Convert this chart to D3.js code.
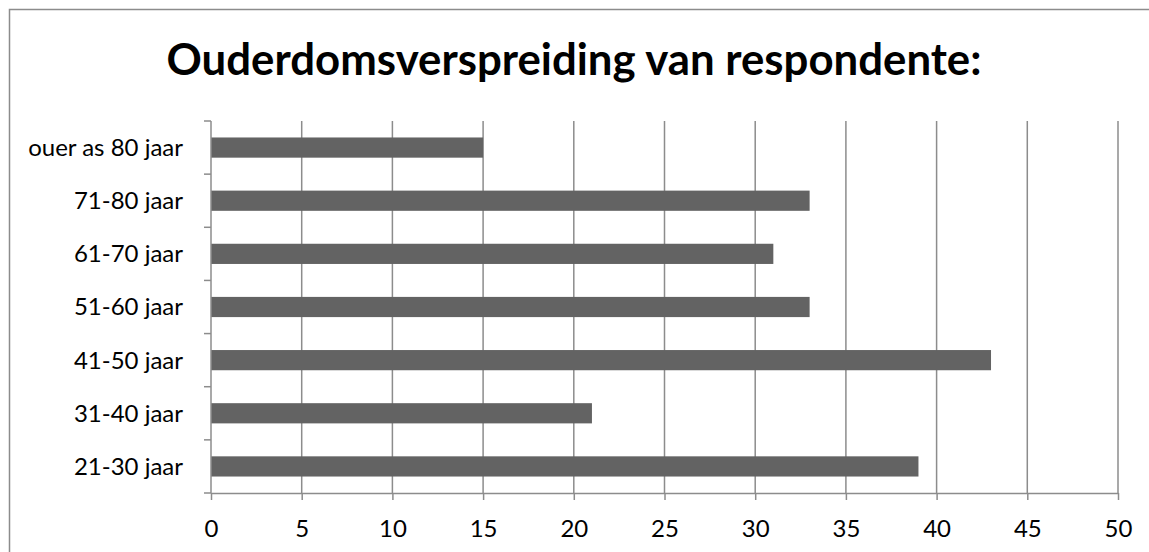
<!DOCTYPE html>
<html>
<head>
<meta charset="utf-8">
<script src="https://cdn.jsdelivr.net/npm/d3@7"></script>
<style>
    body { margin: 0; background: #fff; }
    svg text { font-family: Lato, "Noto Sans", sans-serif; fill: #000; }
</style>
</head>
<body>
<div id="chart"></div>
<script>
// chart data, top to bottom as drawn
const TITLE = "Ouderdomsverspreiding van respondente:";
const CATEGORIES = [
    'ouer as 80 jaar',
    '71-80 jaar',
    '61-70 jaar',
    '51-60 jaar',
    '41-50 jaar',
    '31-40 jaar',
    '21-30 jaar'
];
const VALUES = [15, 33, 31, 33, 43, 21, 39];
const X_TICKS = [0, 5, 10, 15, 20, 25, 30, 35, 40, 45, 50];

const WIDTH = 1149;
const HEIGHT = 552;

let margin = { top: 121, right: 31, bottom: 59, left: 211 };
let width = WIDTH - margin.left - margin.right;
let height = HEIGHT - margin.top - margin.bottom;

let svg = d3.select("#chart").append("svg")
    .attr("width", WIDTH)
    .attr("height", HEIGHT);

// chart frame (runs off the right and bottom of the picture)
svg.append("rect")
    .attr("x", 9.5)
    .attr("y", 9.5)
    .attr("width", WIDTH + 20)
    .attr("height", HEIGHT + 20)
    .attr("fill", "none")
    .attr("stroke", "#8c8c8c")
    .attr("stroke-width", 1.5);

svg.append("text")
    .attr("x", 574)
    .attr("y", 75)
    .attr("text-anchor", "middle")
    .attr("font-size", 44)
    .attr("font-weight", "bold")
    .attr("textLength", 815)
    .attr("lengthAdjust", "spacingAndGlyphs")
    .text(TITLE);

let g = svg.append("g")
    .attr("transform", `translate(${margin.left}, ${margin.top})`);

let x = d3.scaleLinear()
    .domain([0, 50])
    .range([0, width]);

let y = d3.scaleBand()
    .domain(CATEGORIES)
    .range([0, height])
    .paddingInner(0.62)
    .paddingOuter(0.31);

// vertical gridlines
g.selectAll(".grid")
    .data(X_TICKS.slice(1))
    .enter().append("line")
    .attr("class", "grid")
    .attr("x1", d => x(d))
    .attr("x2", d => x(d))
    .attr("y1", 0)
    .attr("y2", height)
    .attr("stroke", "#8c8c8c")
    .attr("stroke-width", 1.5);

// bars
g.selectAll(".bar")
    .data(VALUES)
    .enter().append("rect")
    .attr("class", "bar")
    .attr("x", 0)
    .attr("y", (d, i) => y(CATEGORIES[i]))
    .attr("width", d => x(d))
    .attr("height", y.bandwidth())
    .attr("fill", "#636363");

// x axis
let xAxis = g.append("g")
    .attr("transform", `translate(0, ${height})`)
    .call(d3.axisBottom(x).tickValues(X_TICKS).tickSize(7).tickPadding(20).tickSizeOuter(0));
xAxis.select(".domain").attr("stroke", "#8c8c8c").attr("stroke-width", 1.5);
xAxis.selectAll(".tick line").attr("stroke", "#8c8c8c").attr("stroke-width", 1.5);
xAxis.selectAll("text").attr("font-size", 24).attr("font-family", "Lato").attr("fill", "#000");

// y axis, ticks sit between categories
let yAxisG = g.append("g");
yAxisG.append("line")
    .attr("x1", 0).attr("x2", 0)
    .attr("y1", 0).attr("y2", height)
    .attr("stroke", "#8c8c8c")
    .attr("stroke-width", 1.5);
let step = y.step();
yAxisG.selectAll(".ytick")
    .data(d3.range(CATEGORIES.length + 1))
    .enter().append("line")
    .attr("class", "ytick")
    .attr("x1", -7).attr("x2", 0)
    .attr("y1", i => i * step)
    .attr("y2", i => i * step)
    .attr("stroke", "#8c8c8c")
    .attr("stroke-width", 1.5);
yAxisG.selectAll(".ylabel")
    .data(CATEGORIES)
    .enter().append("text")
    .attr("class", "ylabel")
    .attr("x", -28)
    .attr("y", d => y(d) + y.bandwidth() / 2)
    .attr("dy", "0.35em")
    .attr("text-anchor", "end")
    .attr("font-size", 24)
    .text(d => d);
</script>
</body>
</html>
